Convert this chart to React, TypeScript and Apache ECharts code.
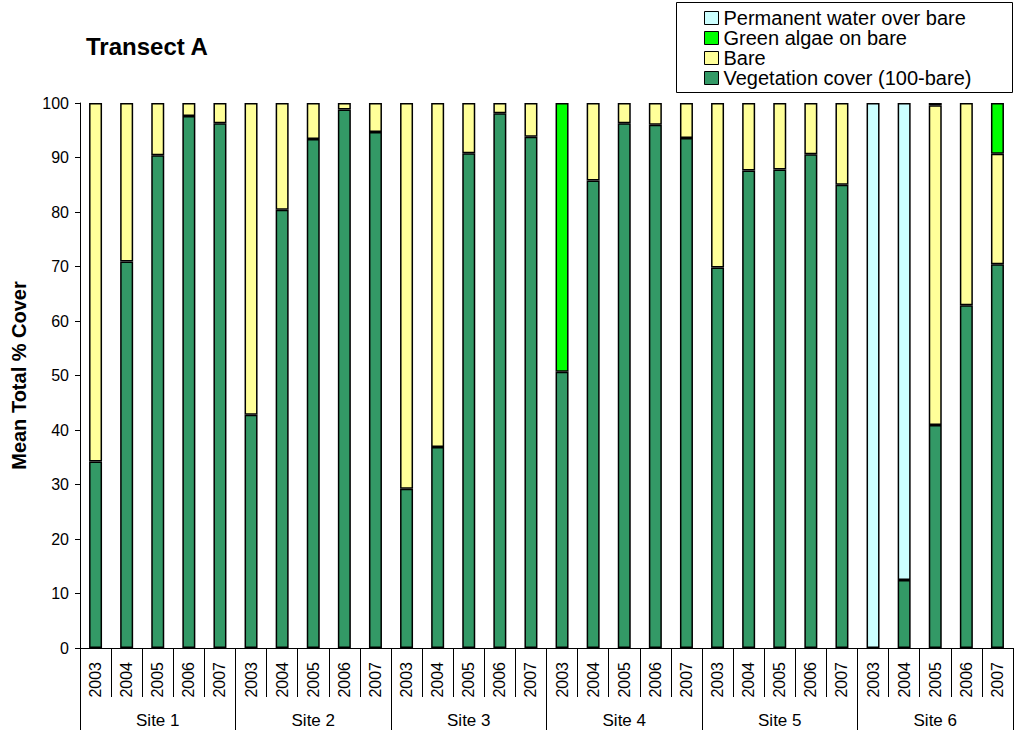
import React, { useEffect, useRef } from "react";
import * as echarts from "echarts";

const years = [
  "2003","2004","2005","2006","2007",
  "2003","2004","2005","2006","2007",
  "2003","2004","2005","2006","2007",
  "2003","2004","2005","2006","2007",
  "2003","2004","2005","2006","2007",
  "2003","2004","2005","2006","2007",
];
const sites = ["Site 1", "Site 2", "Site 3", "Site 4", "Site 5", "Site 6"];

const vegetation = [
  34.2, 70.9, 90.4, 97.6, 96.3,
  42.8, 80.4, 93.4, 98.8, 94.7,
  29.2, 36.9, 90.8, 98.1, 93.8,
  50.7, 85.8, 96.3, 96.0, 93.6,
  69.8, 87.6, 87.8, 90.6, 85.0,
  null, 12.5, 40.9, 62.9, 70.4,
];
const bare = [
  65.8, 29.1, 9.6, 2.4, 3.7,
  57.2, 19.6, 6.6, 1.2, 5.3,
  70.8, 63.1, 9.2, 1.9, 6.2,
  null, 14.2, 3.7, 4.0, 6.4,
  30.2, 12.4, 12.2, 9.4, 15.0,
  null, null, 58.7, 37.1, 20.3,
];
const greenAlgae = [
  null, null, null, null, null,
  null, null, null, null, null,
  null, null, null, null, null,
  49.3, null, null, null, null,
  null, null, null, null, null,
  null, null, 0.4, null, 9.3,
];
const water = [
  null, null, null, null, null,
  null, null, null, null, null,
  null, null, null, null, null,
  null, null, null, null, null,
  null, null, null, null, null,
  100, 87.5, null, null, null,
];

const yTicks = [0, 10, 20, 30, 40, 50, 60, 70, 80, 90, 100];

const FONT = "'Liberation Sans', Arial, sans-serif";

export default function App() {
  const ref = useRef<HTMLDivElement>(null);
  useEffect(() => {
    if (!ref.current) return;
    const chart = echarts.init(ref.current, undefined, { renderer: "svg" });
    const mk = (name: string, data: (number | null)[], color: string) => ({
      name,
      type: "bar",
      stack: "total",
      xAxisIndex: 0,
      data,
      barWidth: 13,
      itemStyle: { color, borderColor: "#000", borderWidth: 1.5 },
    });
    chart.setOption({
      animation: false,
      textStyle: { fontFamily: FONT },
      title: {
        text: "Transect A",
        left: 86,
        top: 34,
        padding: 0,
        textStyle: { fontSize: 24, fontWeight: "bold", color: "#000", fontFamily: FONT },
      },
      graphic: [
        {
          type: "rect",
          shape: { x: 676.5, y: 2.5, width: 336, height: 90 },
          style: { fill: "#fff", stroke: "#000", lineWidth: 1 },
          z: -1,
        },
      ],
      legend: {
        orient: "vertical",
        left: 704,
        top: 8,
        padding: 0,
        itemGap: 0,
        itemWidth: 14,
        itemHeight: 13,
        icon: "rect",
        data: [
          "Permanent water over bare",
          "Green algae on bare",
          "Bare",
          "Vegetation cover (100-bare)",
        ],
        textStyle: { fontSize: 20, lineHeight: 19.5, color: "#000", fontFamily: FONT },
        itemStyle: { borderColor: "#000", borderWidth: 1 },
      },
      grid: { left: 80, right: 4, top: 103, bottom: 94 },
      xAxis: [
        {
          type: "category",
          data: years,
          position: "bottom",
          axisLine: { show: true, lineStyle: { color: "#000", width: 1 } },
          axisTick: { show: true, interval: 0, length: 49, lineStyle: { color: "#000", width: 1 } },
          axisLabel: {
            interval: 0,
            rotate: 90,
            fontSize: 16,
            margin: 14,
            color: "#000",
            fontFamily: FONT,
          },
        },
        {
          type: "category",
          data: sites,
          position: "bottom",
          axisLine: { show: false },
          axisTick: { show: true, interval: 0, length: 82, lineStyle: { color: "#000", width: 1 } },
          axisLabel: { interval: 0, fontSize: 17, margin: 64, color: "#000", fontFamily: FONT },
        },
      ],
      yAxis: {
        type: "value",
        min: yTicks[0],
        max: yTicks[yTicks.length - 1],
        interval: 10,
        name: "Mean Total % Cover",
        nameLocation: "middle",
        nameGap: 51,
        nameTextStyle: { fontSize: 20, fontWeight: "bold", color: "#000", fontFamily: FONT },
        axisLine: { show: true, lineStyle: { color: "#000", width: 1 } },
        axisTick: { show: true, length: 5, lineStyle: { color: "#000" } },
        axisLabel: { fontSize: 16, margin: 11, color: "#000", fontFamily: FONT },
        splitLine: { show: false },
      },
      series: [
        mk("Vegetation cover (100-bare)", vegetation, "#339966"),
        mk("Bare", bare, "#FFFF99"),
        mk("Green algae on bare", greenAlgae, "#00FF00"),
        mk("Permanent water over bare", water, "#CCFFFF"),
      ],
    });
    return () => chart.dispose();
  }, []);
  return <div ref={ref} style={{ width: 1017, height: 742, position: "absolute", left: 0, top: 0 }} />;
}
